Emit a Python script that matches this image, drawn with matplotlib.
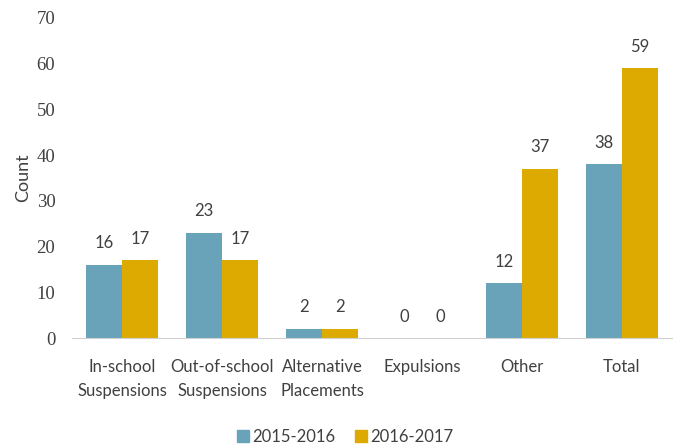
import numpy as np
import matplotlib.pyplot as plt
from matplotlib.patches import Patch

categories = ['In-school\nSuspensions', 'Out-of-school\nSuspensions', 'Alternative\nPlacements',
              'Expulsions', 'Other', 'Total']
vals_1516 = [16, 23, 2, 0, 12, 38]
vals_1617 = [17, 17, 2, 0, 37, 59]
series_names = ['2015-2016', '2016-2017']

c_blue = '#68a3ba'
c_gold = '#dcaa00'
sans = 'Lato'

fig = plt.figure(figsize=(6.73, 4.48), dpi=100)
ax = fig.add_axes([0.107, 0.2455, 0.8915, 0.7145])

x = np.arange(len(categories))
w = 0.36
b1 = ax.bar(x - w/2, vals_1516, w, color=c_blue)
b2 = ax.bar(x + w/2, vals_1617, w, color=c_gold)

# value labels above bars
for bars, vals in ((b1, vals_1516), (b2, vals_1617)):
    for r, v in zip(bars, vals):
        ax.text(r.get_x() + r.get_width()/2, v + 4.7, str(v), ha='center', va='center',
                fontsize=12, color='#404040', family=sans)

ax.set_xlim(-0.5, len(categories) - 0.5)
ax.set_ylim(0, 70)
ax.set_yticks(np.arange(0, 71, 10))
ax.set_yticklabels([str(t) for t in range(0, 71, 10)], family='Liberation Serif',
                   fontsize=13.5, color='#404040')
ax.set_xticks(x)
ax.set_xticklabels(categories, family=sans, fontsize=12, color='#404040', linespacing=1.6)
ax.tick_params(axis='both', length=0)
ax.tick_params(axis='y', pad=12)
ax.tick_params(axis='x', pad=15)
for s in ('top', 'right', 'left'):
    ax.spines[s].set_visible(False)
ax.spines['bottom'].set_color('#d0d0d0')
ax.set_ylabel('Count', family=sans, fontsize=13, color='#404040', labelpad=4)

handles = [Patch(color=c_blue, label=series_names[0]), Patch(color=c_gold, label=series_names[1])]
fig.legend(handles=handles, loc='center', bbox_to_anchor=(0.513, 0.025), ncol=2, frameon=False,
           prop={'family': sans, 'size': 12}, handlelength=0.7, handleheight=0.7,
           handletextpad=0.2, columnspacing=1.2, labelcolor='#404040')

fig.savefig('out.png', dpi=100)
